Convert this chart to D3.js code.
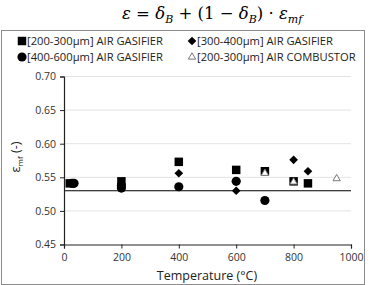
<!DOCTYPE html>
<html>
<head>
<meta charset="utf-8">
<script src="https://cdn.jsdelivr.net/npm/d3@7"></script>
<style>
  body { margin: 0; background: #fff; }
  svg { display: block; }
</style>
</head>
<body>
<svg id="chart" width="370" height="285"></svg>
<script>
// series: [temperature °C, eps_mf]
const gas200 = [[20, 0.541], [200, 0.544], [400, 0.573], [600, 0.561], [700, 0.559], [800, 0.544], [850, 0.541]];
const gas300 = [[400, 0.556], [600, 0.530], [800, 0.576], [850, 0.559]];
const gas400 = [[28, 0.541], [35, 0.541], [200, 0.538], [200, 0.534], [400, 0.536], [600, 0.544], [700, 0.5155]];
const comb200 = [[700, 0.556], [800, 0.543], [950, 0.548]];
const refLine = 0.53;
const xTicks = [0, 200, 400, 600, 800, 1000];
const yTicks = [0.45, 0.50, 0.55, 0.60, 0.65, 0.70];
const legendNames = ["[200-300µm] AIR GASIFIER", "[300-400µm] AIR GASIFIER", "[400-600µm] AIR GASIFIER", "[200-300µm] AIR COMBUSTOR"];

const svg = d3.select("#chart");
const font = "'Open Sans', sans-serif";

// equation on top
const eq = svg.append("text")
    .attr("x", 122).attr("y", 19)
    .style("font", "italic 16.5px 'DejaVu Serif', serif");
eq.append("tspan").text("ε");
eq.append("tspan").style("font-style", "normal").text(" = ");
eq.append("tspan").text("δ");
eq.append("tspan").attr("dy", 4).style("font-size", "11px").text("B");
eq.append("tspan").attr("dy", -4).style("font-style", "normal").text(" + (1 − ");
eq.append("tspan").text("δ");
eq.append("tspan").attr("dy", 4).style("font-size", "11px").text("B");
eq.append("tspan").attr("dy", -4).style("font-style", "normal").text(") · ");
eq.append("tspan").text("ε");
eq.append("tspan").attr("dy", 4).style("font-size", "11px").text("mf");

// chart frame
svg.append("rect")
    .attr("x", 1.5).attr("y", 30.5).attr("width", 363).attr("height", 254)
    .attr("fill", "none").attr("stroke", "#8c8c8c");

const x = d3.scaleLinear().domain([0, 1000]).range([64, 351]);
const y = d3.scaleLinear().domain([0.45, 0.70]).range([244.5, 76.5]);

// gridlines
svg.append("g").selectAll("line")
  .data(yTicks.slice(1))
  .join("line")
    .attr("x1", x(0)).attr("x2", x(1000))
    .attr("y1", d => y(d)).attr("y2", d => y(d))
    .attr("stroke", "#e3e3e3");

// reference line
svg.append("line")
    .attr("x1", x(0)).attr("x2", x(1000))
    .attr("y1", y(refLine)).attr("y2", y(refLine))
    .attr("stroke", "#000").attr("stroke-width", 1.2);

const xAxis = svg.append("g")
    .attr("transform", `translate(0,${y(0.45)})`)
    .call(d3.axisBottom(x).tickValues(xTicks).tickSize(4).tickPadding(5).tickFormat(d3.format("d")));
const yAxis = svg.append("g")
    .attr("transform", `translate(${x(0)},0)`)
    .call(d3.axisLeft(y).tickValues(yTicks).tickSize(4).tickPadding(4).tickFormat(d3.format(".2f")));
[xAxis, yAxis].forEach(a => {
  a.select(".domain").attr("stroke", "#222").attr("stroke-width", 1.2);
  a.selectAll(".tick line").attr("stroke", "#222");
  a.selectAll("text").style("font", `10.5px ${font}`).attr("fill", "#333");
});

// axis titles
svg.append("text")
    .attr("x", 207).attr("y", 280)
    .attr("text-anchor", "middle")
    .style("font", `12.5px ${font}`).attr("fill", "#222")
    .text("Temperature (°C)");
const yt = svg.append("text")
    .attr("transform", "translate(20,157) rotate(-90)")
    .attr("text-anchor", "middle")
    .style("font", `12.5px ${font}`).attr("fill", "#222");
yt.append("tspan").text("ε");
yt.append("tspan").attr("dy", 3).style("font-size", "8px").text("mf");
yt.append("tspan").attr("dy", -3).text(" (-)");

// marker drawing
const sym = {
  square: d3.symbol().type(d3.symbolSquare).size(72),
  diamond: d3.symbol().type(d3.symbolDiamond2).size(48),
  circle: d3.symbol().type(d3.symbolCircle).size(66),
  triangle: d3.symbol().type(d3.symbolTriangle2).size(38)
};
function drawSeries(data, s, fill, stroke) {
  svg.append("g").selectAll("path")
    .data(data)
    .join("path")
      .attr("transform", d => `translate(${x(d[0])},${y(d[1])})`)
      .attr("d", sym[s]())
      .attr("fill", fill)
      .attr("stroke", stroke)
      .attr("stroke-width", stroke === "none" ? 0 : 1);
}
drawSeries(gas200, "square", "#000", "none");
drawSeries(gas300, "diamond", "#000", "none");
drawSeries(gas400, "circle", "#000", "none");
drawSeries(comb200, "triangle", "#fff", "#777");

// legend
const legend = [
  {name: legendNames[0], s: "square", fill: "#000", stroke: "none", x: 22, y: 41},
  {name: legendNames[1], s: "diamond", fill: "#000", stroke: "none", x: 192, y: 41},
  {name: legendNames[2], s: "circle", fill: "#000", stroke: "none", x: 22, y: 57},
  {name: legendNames[3], s: "triangle", fill: "#fff", stroke: "#777", x: 192, y: 57}
];
const lg = svg.append("g").selectAll("g").data(legend).join("g")
    .attr("transform", d => `translate(${d.x},${d.y})`);
lg.append("path")
    .attr("d", d => sym[d.s]())
    .attr("fill", d => d.fill).attr("stroke", d => d.stroke)
    .attr("stroke-width", d => d.stroke === "none" ? 0 : 1);
lg.append("text")
    .attr("x", 5).attr("dy", "0.35em")
    .style("font", `11.2px ${font}`).attr("fill", "#222")
    .text(d => d.name);
</script>
</body>
</html>
